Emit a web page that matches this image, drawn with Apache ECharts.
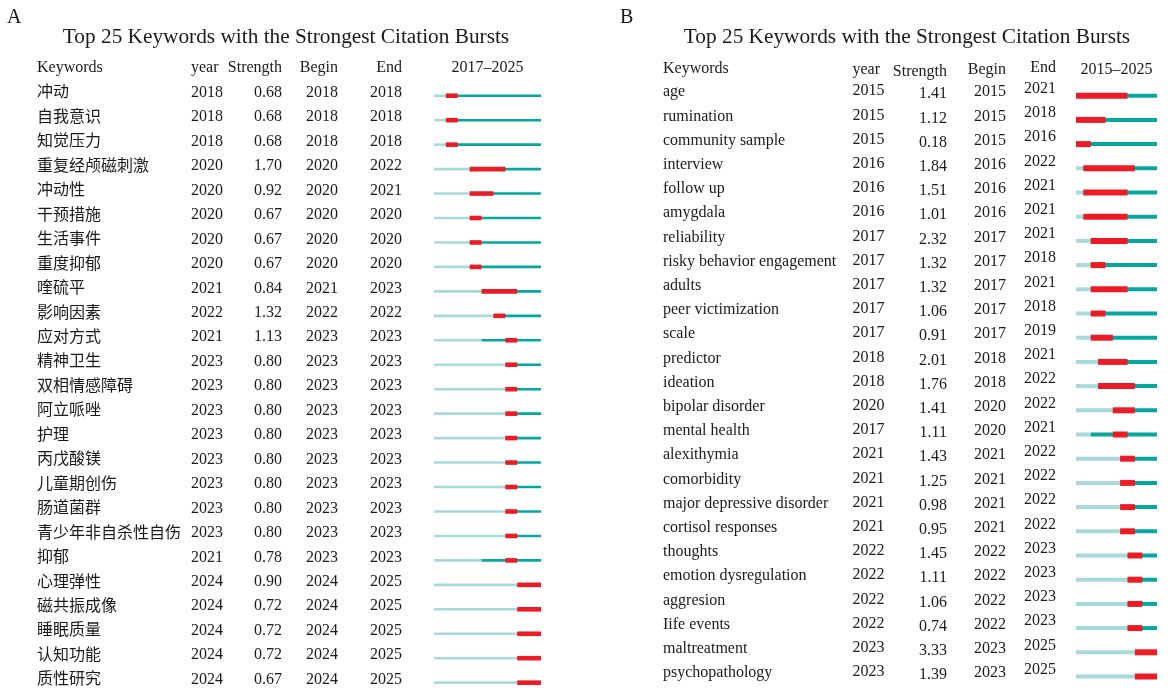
<!DOCTYPE html>
<html><head><meta charset="utf-8">
<script src="https://cdn.jsdelivr.net/npm/echarts@6/dist/echarts.min.js"></script>
<style>html,body{margin:0;padding:0;background:#fff}#c{width:1168px;height:690px}</style>
</head><body><div id="c"></div>
<script>
// ---------- Panel A data ----------
const kwA = ['冲动','自我意识','知觉压力','重复经颅磁刺激','冲动性','干预措施','生活事件','重度抑郁','喹硫平','影响因素','应对方式','精神卫生','双相情感障碍','阿立哌唑','护理','丙戊酸镁','儿童期创伤','肠道菌群','青少年非自杀性自伤','抑郁','心理弹性','磁共振成像','睡眠质量','认知功能','质性研究'];
const yearA = [2018,2018,2018,2020,2020,2020,2020,2020,2021,2022,2021,2023,2023,2023,2023,2023,2023,2023,2023,2021,2024,2024,2024,2024,2024];
const strengthA = [0.68,0.68,0.68,1.70,0.92,0.67,0.67,0.67,0.84,1.32,1.13,0.80,0.80,0.80,0.80,0.80,0.80,0.80,0.80,0.78,0.90,0.72,0.72,0.72,0.67];
const beginA = [2018,2018,2018,2020,2020,2020,2020,2020,2021,2022,2023,2023,2023,2023,2023,2023,2023,2023,2023,2023,2024,2024,2024,2024,2024];
const endA = [2018,2018,2018,2022,2021,2020,2020,2020,2023,2022,2023,2023,2023,2023,2023,2023,2023,2023,2023,2023,2025,2025,2025,2025,2025];
const spanA = [2017, 2025];

// ---------- Panel B data ----------
const kwB = ['age','rumination','community sample','interview','follow up','amygdala','reliability','risky behavior engagement','adults','peer victimization','scale','predictor','ideation','bipolar disorder','mental health','alexithymia','comorbidity','major depressive disorder','cortisol responses','thoughts','emotion dysregulation','aggresion','Iife events','maltreatment','psychopathology'];
const yearB = [2015,2015,2015,2016,2016,2016,2017,2017,2017,2017,2017,2018,2018,2020,2017,2021,2021,2021,2021,2022,2022,2022,2022,2023,2023];
const strengthB = [1.41,1.12,0.18,1.84,1.51,1.01,2.32,1.32,1.32,1.06,0.91,2.01,1.76,1.41,1.11,1.43,1.25,0.98,0.95,1.45,1.11,1.06,0.74,3.33,1.39];
const beginB = [2015,2015,2015,2016,2016,2016,2017,2017,2017,2017,2017,2018,2018,2020,2020,2021,2021,2021,2021,2022,2022,2022,2022,2023,2023];
const endB = [2021,2018,2016,2022,2021,2021,2021,2018,2021,2018,2019,2021,2022,2022,2021,2022,2022,2022,2022,2023,2023,2023,2023,2025,2025];
const spanB = [2015, 2025];

const headers = ['Keywords','year','Strength','Begin','End'];
const panelTitle = 'Top 25 Keywords with the Strongest Citation Bursts';

// ---------- styling / layout ----------
const SERIF = '"Liberation Serif","Times New Roman",serif';
const KWFONT = '"Liberation Serif","Noto Sans CJK SC",serif';
const TXT = '#1a1a1a';
const LIGHT = '#a9dadb', DARK = '#05a7a0', RED = '#ed1c24';

const layA = {grid:{left:434,width:107,top:83.5,height:606.5}, rowMax:24.3, kwX:37, yearX:191, strX:282, beginX:338, endX:402,
  dy:{kw:-2.5,year:-3,str:-3,begin:-3,end:-3}, line:2.6, red:4.6, headY:68, headDy:{kw:0,year:0,str:0,begin:0,end:0,span:0}, titleX:286, labelX:7};
const layB = {grid:{left:1076,width:81,top:83.6,height:605}, rowMax:24.5, kwX:663, yearX:852.5, strX:947, beginX:1006, endX:1056,
  dy:{kw:-3.5,year:-4.5,str:-1.5,begin:-3.5,end:-7}, line:4, red:6, headY:69, headDy:{kw:0,year:1,str:3,begin:1,end:-1,span:1}, titleX:907, labelX:620};

function barSeries(gi, kw, yr, bg, en, span, lay){
  return {
    type:'custom', xAxisIndex:gi, yAxisIndex:gi, clip:false, silent:true,
    encode:{x:[1,2,3], y:0},
    data: kw.map((k,i)=>[i, yr[i], bg[i], en[i]]),
    renderItem:function(params, api){
      const i = api.value(0);
      const y = api.coord([span[0], i])[1];
      const x0 = api.coord([span[0], i])[0];
      const x1 = api.coord([span[1]+1, i])[0];
      const xy = api.coord([Math.max(span[0], api.value(1)), i])[0];
      const xb = api.coord([api.value(2), i])[0];
      const xe = api.coord([api.value(3)+1, i])[0];
      const ch = [];
      if (xy > x0) ch.push({type:'rect', shape:{x:x0, y:y-lay.line/2, width:xy-x0, height:lay.line}, style:{fill:LIGHT}});
      ch.push({type:'rect', shape:{x:xy, y:y-lay.line/2, width:x1-xy, height:lay.line}, style:{fill:DARK}});
      ch.push({type:'rect', shape:{x:xb, y:y-lay.red/2, width:xe-xb, height:lay.red}, style:{fill:RED}});
      return {type:'group', children:ch};
    }
  };
}

function txt(text, x, y, align, font, size){
  return {type:'text', style:{text:text, x:x, y:y, align:align, textAlign:align, verticalAlign:'middle', textVerticalAlign:'middle',
    fontFamily:font||SERIF, fontSize:size||16, fill:TXT}};
}

function textSeries(gi, kw, yr, st, bg, en, span, lay){
  return {
    type:'custom', xAxisIndex:gi, yAxisIndex:gi, clip:false, silent:true,
    encode:{x:1, y:0},
    data: kw.map((k,i)=>[i, span[0]]),
    renderItem:function(params, api){
      const i = api.value(0);
      const y = api.coord([span[0], i])[1];
      return {type:'group', children:[
        txt(kw[i], lay.kwX, y+lay.dy.kw, 'left', KWFONT),
        txt(String(yr[i]), lay.yearX, y+lay.dy.year, 'left'),
        txt(st[i].toFixed(2), lay.strX, y+lay.dy.str, 'right'),
        txt(String(bg[i]), lay.beginX, y+lay.dy.begin, 'right'),
        txt(String(en[i]), lay.endX, y+lay.dy.end, 'right')
      ]};
    }
  };
}

function headerGraphics(lay, span, label){
  const y = lay.headY, d = lay.headDy;
  const cx = lay.grid.left + lay.grid.width/2;
  return [
    {type:'text', left:lay.labelX, top:8, style:{text:label, font:'20px '+SERIF, fill:TXT}},
    {type:'text', x:lay.titleX, y:37, style:{text:panelTitle, font:'21.3px '+SERIF, fill:TXT, textAlign:'center', textVerticalAlign:'middle', align:'center', verticalAlign:'middle'}},
    txt(headers[0], lay.kwX, y+d.kw, 'left'),
    txt(headers[1], lay.yearX, y+d.year, 'left'),
    txt(headers[2], lay.strX, y+d.str, 'right'),
    txt(headers[3], lay.beginX, y+d.begin, 'right'),
    txt(headers[4], lay.endX, y+d.end, 'right'),
    txt(span[0]+'\u2013'+span[1], cx, y+d.span, 'center')
  ];
}

const chart = echarts.init(document.getElementById('c'), null, {renderer:'canvas'});
chart.setOption({
  animation:false,
  backgroundColor:'#fff',
  grid:[layA.grid, layB.grid],
  xAxis:[
    {gridIndex:0, type:'value', min:spanA[0], max:spanA[1]+1, show:false},
    {gridIndex:1, type:'value', min:spanB[0], max:spanB[1]+1, show:false}
  ],
  yAxis:[
    {gridIndex:0, type:'value', min:-0.5, max:layA.rowMax, inverse:true, show:false},
    {gridIndex:1, type:'value', min:-0.5, max:layB.rowMax, inverse:true, show:false}
  ],
  graphic: headerGraphics(layA, spanA, 'A').concat(headerGraphics(layB, spanB, 'B')),
  series:[
    barSeries(0, kwA, yearA, beginA, endA, spanA, layA),
    barSeries(1, kwB, yearB, beginB, endB, spanB, layB),
    textSeries(0, kwA, yearA, strengthA, beginA, endA, spanA, layA),
    textSeries(1, kwB, yearB, strengthB, beginB, endB, spanB, layB)
  ]
});
</script>
</body></html>
